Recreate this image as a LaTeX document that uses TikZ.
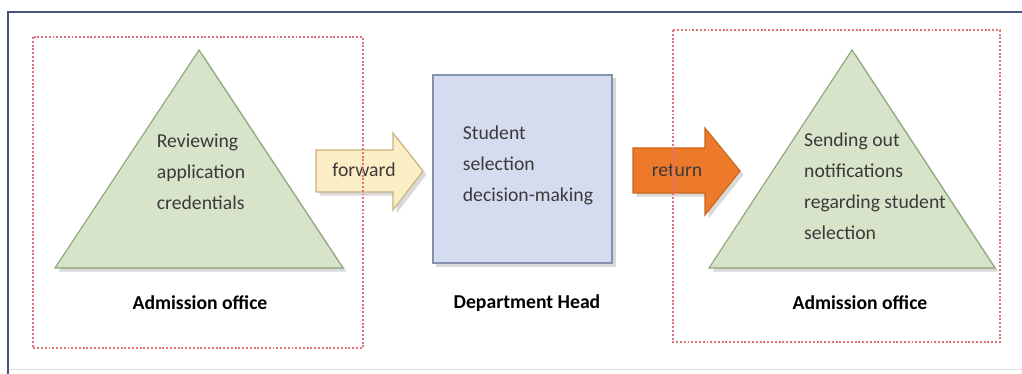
\documentclass[tikz,border=0pt]{standalone}
\usepackage{fontspec}
\setmainfont{Carlito}
\usetikzlibrary{shadows,positioning,calc}

\definecolor{trifill}{HTML}{D8E4C9}
\definecolor{triline}{HTML}{8EA57A}
\definecolor{boxfill}{HTML}{D6DCF0}
\definecolor{boxline}{HTML}{8592AE}
\definecolor{fwdfill}{HTML}{FBEDC4}
\definecolor{fwdline}{HTML}{C9B27C}
\definecolor{retfill}{HTML}{EC7A2A}
\definecolor{retline}{HTML}{C9661C}
\definecolor{zoneline}{HTML}{E0707C}
\definecolor{frameline}{HTML}{46557A}
\definecolor{inktext}{HTML}{3A3A3A}

\tikzset{
    softshadow/.style={drop shadow={opacity=0.3,shadow xshift=2.5pt,shadow yshift=-2.5pt}},
    tri/.style={fill=trifill,draw=triline,line width=0.8pt,softshadow},
    stage/.style={fill=boxfill,draw=boxline,line width=0.8pt,softshadow},
    inner/.style={align=left,text=inktext,font=\fontsize{14}{22}\selectfont},
    owner/.style={font=\fontsize{14}{17}\selectfont\bfseries},
    blockarrow/.style={line width=0.8pt,line join=miter,softshadow},
    arrowtext/.style={text=inktext,font=\fontsize{14}{16}\selectfont},
    zone/.style={draw=zoneline,line width=0.9pt,dash pattern=on 1.4pt off 1.3pt}
}

\begin{document}
\begin{tikzpicture}[x=0.025cm,y=-0.025cm]
    \useasboundingbox (0,0) rectangle (1022,374);
    \draw [black!12] (8,369) -- (1022,369);
    \draw [frameline,line width=1.6pt] (8,374) -- (8,12) -- (1022,12);

    % left triangle
    \coordinate (ltop) at (199,50);
    \coordinate (lleft) at (55,268);
    \coordinate (lright) at (343,268);
    \draw [tri] (ltop) -- (lright) -- (lleft) -- cycle;
    \node [inner] (review) at (201,172) {Reviewing\\application\\credentials};
    \node [owner] (office1) at (200,303) {Admission office};

    % middle box
    \node [stage,minimum width=4.475cm,minimum height=4.7cm] (decide) at (522.5,169) {};
    \node [inner] (select) at (528,165) {Student\\selection\\decision-making};
    \node [owner] (head) at (527,303) {Department Head};

    % right triangle
    \coordinate (rtop) at (852,50);
    \coordinate (rleft) at (709,268);
    \coordinate (rright) at (995,268);
    \draw [tri] (rtop) -- (rright) -- (rleft) -- cycle;
    \node [inner] (notify) at (875,186) {Sending out\\notifications\\regarding student\\selection};
    \node [owner] (office2) at (860,303) {Admission office};

    % arrows
    \coordinate (fwdtip) at (423,171);
    \draw [blockarrow,fill=fwdfill,draw=fwdline] (316,150) -- (393,150) -- (393,133)
        -- (fwdtip) -- (393,210) -- (393,192) -- (316,192) -- cycle;
    \node [arrowtext] (fwd) at (364,170) {forward};
    \coordinate (rettip) at (740,171);
    \draw [blockarrow,fill=retfill,draw=retline] (633,148) -- (705,148) -- (705,128)
        -- (rettip) -- (705,215) -- (705,193) -- (633,193) -- cycle;
    \node [arrowtext] (ret) at (677,170) {return};

    % dashed zones
    \draw [zone] (33,37) rectangle (363,348);
    \draw [zone] (673,30) rectangle (1000,342);
\end{tikzpicture}
\end{document}
